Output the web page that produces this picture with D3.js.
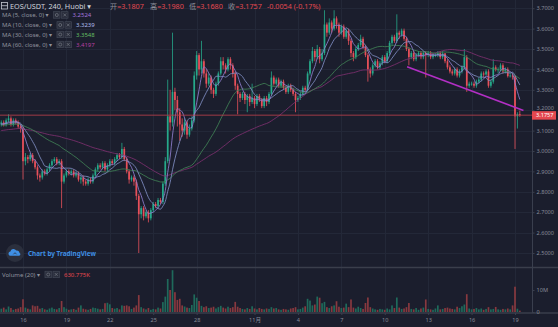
<!DOCTYPE html>
<html>
<head>
<meta charset="utf-8">
<script src="https://cdn.jsdelivr.net/npm/d3@7"></script>
<style>
  html, body { margin: 0; padding: 0; background: #1b1e2d; }
  svg { display: block; }
  text { font-family: "Noto Sans", "Noto Sans CJK SC", "DejaVu Sans", sans-serif; }
</style>
</head>
<body>
<svg id="chart" width="558" height="327"></svg>
<script>
// ---------------- data: EOS/USDT, 4h candles, Huobi ----------------
const symbolTitle = "EOS/USDT, 240, Huobi";
const firstCandleTime = "2019-10-14T12:00";
const candleHours = 4;

// closes of the 59 candles before the first visible one (feed the moving averages)
const earlierCloses = [
  3.05,3.04,3.06,3.08,3.07,3.05,3.06,3.09,3.08,3.10,
  3.07,3.06,3.08,3.09,3.07,3.05,3.06,3.08,3.10,3.09,
  3.07,3.08,3.06,3.07,3.09,3.10,3.08,3.07,3.09,3.10,
  3.11,3.12,3.10,3.13,3.12,3.11,3.13,3.14,3.12,3.11,
  3.13,3.12,3.14,3.13,3.11,3.12,3.13,3.12,3.14,3.13,
  3.12,3.14,3.13,3.12,3.15,3.13,3.12,3.14,3.13
];

const opens = [
  3.13,3.14,3.13,3.15,3.16,3.13,3.15,3.14,3.12,3.11,
  2.95,2.97,2.96,2.98,2.95,2.92,2.88,2.87,2.90,2.89,
  2.91,2.93,2.95,2.96,2.94,2.95,2.85,2.88,2.90,2.89,
  2.90,2.88,2.89,2.86,2.87,2.85,2.84,2.86,2.85,2.88,
  2.91,2.93,2.92,2.94,2.91,2.93,2.95,2.94,2.96,2.98,
  2.97,3.01,2.96,2.90,2.86,2.87,2.85,2.78,2.69,2.72,
  2.68,2.70,2.67,2.71,2.74,2.73,2.76,2.75,2.84,2.95,
  3.17,3.14,3.29,3.25,3.19,3.13,3.10,3.14,3.08,3.11,
  3.15,3.37,3.47,3.40,3.44,3.38,3.33,3.36,3.30,3.28,
  3.33,3.38,3.44,3.42,3.40,3.45,3.42,3.38,3.32,3.28,
  3.26,3.28,3.25,3.27,3.24,3.26,3.23,3.27,3.25,3.22,
  3.26,3.24,3.28,3.36,3.33,3.35,3.32,3.34,3.31,3.29,
  3.32,3.30,3.28,3.25,3.26,3.28,3.31,3.30,3.38,3.44,
  3.49,3.46,3.50,3.45,3.48,3.62,3.58,3.63,3.60,3.65,
  3.62,3.58,3.61,3.56,3.59,3.54,3.48,3.46,3.50,3.52,
  3.55,3.51,3.47,3.40,3.38,3.42,3.44,3.41,3.43,3.46,
  3.44,3.48,3.53,3.56,3.54,3.58,3.57,3.59,3.55,3.50,
  3.46,3.48,3.45,3.47,3.48,3.46,3.48,3.47,3.48,3.46,
  3.47,3.47,3.48,3.46,3.478,3.44,3.41,3.39,3.38,3.40,
  3.37,3.39,3.41,3.46,3.32,3.33,3.33,3.32,3.34,3.35,
  3.38,3.375,3.39,3.32,3.34,3.41,3.40,3.40,3.42,3.39,
  3.40,3.367,3.37,3.365,3.17,3.1807
];

const highs = [
  3.15,3.15,3.16,3.18,3.17,3.16,3.16,3.15,3.13,3.12,
  2.99,2.98,2.99,2.99,2.96,2.93,2.89,2.91,2.91,2.92,
  2.94,2.96,2.97,2.97,2.96,2.96,2.89,2.91,2.91,2.91,
  2.91,2.90,2.90,2.88,2.88,2.86,2.87,2.87,2.89,2.92,
  2.94,2.94,2.95,2.95,2.94,2.96,2.96,2.97,2.99,2.99,
  3.04,3.02,2.97,2.91,2.88,2.88,2.86,2.79,2.73,2.73,
  2.71,2.71,2.72,2.75,2.75,2.77,2.77,2.85,2.97,3.35,
  3.30,3.58,3.31,3.27,3.21,3.16,3.16,3.15,3.13,3.17,
  3.39,3.49,3.48,3.54,3.45,3.40,3.38,3.37,3.31,3.34,
  3.39,3.46,3.46,3.43,3.46,3.46,3.43,3.39,3.33,3.29,
  3.29,3.29,3.28,3.28,3.33,3.27,3.28,3.28,3.26,3.27,
  3.27,3.29,3.39,3.37,3.36,3.36,3.35,3.35,3.32,3.33,
  3.33,3.31,3.29,3.27,3.29,3.32,3.32,3.39,3.45,3.51,
  3.50,3.52,3.51,3.50,3.69,3.63,3.65,3.64,3.69,3.66,
  3.63,3.62,3.62,3.60,3.60,3.55,3.49,3.51,3.53,3.57,
  3.56,3.52,3.48,3.41,3.43,3.45,3.45,3.44,3.47,3.47,
  3.49,3.54,3.57,3.57,3.67,3.59,3.60,3.60,3.56,3.51,
  3.49,3.49,3.48,3.49,3.49,3.49,3.49,3.49,3.49,3.48,
  3.48,3.49,3.49,3.49,3.48,3.45,3.42,3.40,3.41,3.41,
  3.40,3.42,3.50,3.47,3.34,3.34,3.34,3.35,3.36,3.39,
  3.39,3.40,3.40,3.35,3.45,3.42,3.41,3.43,3.43,3.41,
  3.41,3.38,3.38,3.37,3.19,3.198
];

const lows = [
  3.12,3.12,3.12,3.14,3.12,3.12,3.13,3.11,3.09,2.86,
  2.93,2.94,2.95,2.94,2.91,2.86,2.85,2.86,2.88,2.88,
  2.90,2.92,2.94,2.93,2.93,2.72,2.84,2.87,2.88,2.88,
  2.87,2.87,2.85,2.84,2.83,2.83,2.83,2.84,2.84,2.87,
  2.90,2.91,2.91,2.90,2.90,2.92,2.93,2.93,2.95,2.96,
  2.96,2.95,2.89,2.84,2.85,2.83,2.76,2.50,2.67,2.66,
  2.67,2.65,2.66,2.70,2.72,2.72,2.74,2.74,2.83,2.94,
  3.10,3.12,3.20,3.12,3.05,3.07,3.08,3.06,3.07,3.10,
  3.14,3.35,3.37,3.38,3.36,3.31,3.32,3.28,3.26,3.27,
  3.32,3.37,3.40,3.38,3.39,3.40,3.36,3.30,3.18,3.24,
  3.25,3.23,3.19,3.22,3.23,3.21,3.22,3.24,3.21,3.21,
  3.22,3.23,3.27,3.32,3.32,3.31,3.31,3.30,3.28,3.28,
  3.29,3.27,3.19,3.24,3.25,3.27,3.29,3.29,3.37,3.43,
  3.44,3.45,3.43,3.44,3.47,3.56,3.57,3.58,3.59,3.60,
  3.56,3.57,3.55,3.55,3.52,3.46,3.44,3.45,3.49,3.51,
  3.50,3.46,3.34,3.36,3.37,3.41,3.40,3.40,3.42,3.43,
  3.43,3.47,3.52,3.53,3.53,3.55,3.56,3.54,3.49,3.42,
  3.45,3.44,3.44,3.46,3.45,3.45,3.36,3.46,3.45,3.45,
  3.46,3.46,3.45,3.45,3.43,3.40,3.38,3.37,3.37,3.36,
  3.36,3.38,3.40,3.29,3.31,3.32,3.31,3.31,3.33,3.34,
  3.36,3.37,3.31,3.31,3.33,3.39,3.38,3.39,3.38,3.38,
  3.36,3.36,3.35,3.01,3.11,3.168
];

const closes = [
  3.14,3.13,3.15,3.16,3.13,3.15,3.14,3.12,3.11,2.95,
  2.97,2.96,2.98,2.95,2.92,2.88,2.87,2.90,2.89,2.91,
  2.93,2.95,2.96,2.94,2.95,2.85,2.88,2.90,2.89,2.90,
  2.88,2.89,2.86,2.87,2.85,2.84,2.86,2.85,2.88,2.91,
  2.93,2.92,2.94,2.91,2.93,2.95,2.94,2.96,2.98,2.97,
  3.01,2.96,2.90,2.86,2.87,2.85,2.78,2.69,2.72,2.68,
  2.70,2.67,2.71,2.74,2.73,2.76,2.75,2.84,2.95,3.17,
  3.14,3.29,3.25,3.19,3.13,3.10,3.14,3.08,3.11,3.15,
  3.37,3.47,3.40,3.44,3.38,3.33,3.36,3.30,3.28,3.33,
  3.38,3.44,3.42,3.40,3.45,3.42,3.38,3.32,3.28,3.26,
  3.28,3.25,3.27,3.24,3.26,3.23,3.27,3.25,3.22,3.26,
  3.24,3.28,3.36,3.33,3.35,3.32,3.34,3.31,3.29,3.32,
  3.30,3.28,3.25,3.26,3.28,3.31,3.30,3.38,3.44,3.49,
  3.46,3.50,3.45,3.48,3.62,3.58,3.63,3.60,3.65,3.62,
  3.58,3.61,3.56,3.59,3.54,3.48,3.46,3.50,3.52,3.55,
  3.51,3.47,3.40,3.38,3.42,3.44,3.41,3.43,3.46,3.44,
  3.48,3.53,3.56,3.54,3.58,3.57,3.59,3.55,3.50,3.46,
  3.48,3.45,3.47,3.48,3.46,3.48,3.47,3.48,3.46,3.47,
  3.47,3.48,3.46,3.478,3.44,3.41,3.39,3.38,3.40,3.37,
  3.39,3.41,3.46,3.32,3.33,3.33,3.32,3.34,3.35,3.38,
  3.375,3.39,3.32,3.34,3.41,3.40,3.40,3.42,3.39,3.40,
  3.367,3.37,3.365,3.17,3.1811,3.1757
];

// volume per candle, millions of EOS
const volumes = [
  1.5,2.0,1.2,2.5,1.8,1.0,1.4,1.6,2.2,5.8,
  2.0,1.5,1.2,3.0,2.6,2.8,1.5,1.8,1.2,1.0,
  1.6,2.0,1.4,1.2,1.8,5.0,2.2,1.5,1.0,1.2,
  1.4,1.0,2.0,3.0,1.5,1.2,1.0,1.4,2.0,1.8,
  1.5,1.2,1.4,4.0,4.2,3.5,1.8,1.5,1.8,1.2,
  3.0,2.8,3.0,2.6,1.4,2.0,3.0,7.7,2.2,1.6,
  1.2,1.8,1.0,1.4,1.2,2.0,1.6,4.5,7.0,15.0,
  10.0,19.0,9.0,5.5,6.0,3.0,2.5,2.0,1.8,3.2,
  8.0,6.5,5.0,2.8,2.2,2.6,1.8,2.0,2.4,1.6,
  2.2,2.8,2.0,1.6,2.4,1.8,2.2,4.6,2.4,1.8,
  1.4,1.2,1.8,1.4,2.6,1.6,1.2,1.8,1.4,1.2,
  1.6,1.4,2.2,1.6,1.8,1.2,1.0,1.4,1.2,1.0,
  1.6,1.8,2.2,1.2,1.4,2.0,2.6,6.0,5.2,3.0,
  3.4,7.0,6.5,4.0,4.6,2.2,1.8,2.6,3.0,4.9,
  2.4,1.8,2.0,3.8,2.2,5.7,2.0,1.6,2.4,1.8,
  1.4,4.1,6.6,2.2,1.6,1.2,1.0,1.4,1.2,1.0,
  1.6,1.2,3.0,1.8,6.6,2.0,1.4,1.6,2.2,4.1,
  1.4,1.2,1.8,1.0,1.6,2.0,5.7,1.4,1.2,1.0,
  1.6,3.0,1.2,1.4,1.8,2.0,1.6,1.4,1.2,2.4,
  1.8,2.6,3.4,8.1,1.6,1.2,1.4,1.8,1.2,1.6,
  1.0,1.4,2.2,1.2,1.4,2.3,1.2,1.0,1.4,1.2,
  1.6,1.2,3.0,11.5,1.5,0.630775
];

const maPeriods = [5, 10, 30, 60];
const volumePeriod = 20;

const priceTicks = [2.5, 2.6, 2.7, 2.8, 2.9, 3.0, 3.1, 3.2, 3.3, 3.4, 3.5, 3.6, 3.7];
const volumeTicks = [0, 10];
const timeTickDays = ["2019-10-16","2019-10-19","2019-10-22","2019-10-25","2019-10-28","2019-11-01",
                      "2019-11-04","2019-11-07","2019-11-10","2019-11-13","2019-11-16","2019-11-19"];
const timeTickLabels = ["16","19","22","25","28","11月","4","7","10","13","16","19"];

// descending trend line drawn across the November highs
const trendTimes = ["2019-11-11T13:00", "2019-11-19T14:00"];
const trendPrices = [3.413, 3.199];

// ---------------- layout & style ----------------
const W = 558, H = 327;
const paneRight = 532, mainTop = 0, mainBottom = 267, volTop = 268, volBottom = 312;
const bg = "#1b1e2d", gridColor = "#232838", axisColor = "#3a3f4e", axisText = "#878b98";
const upColor = "#26a98a", downColor = "#e8505a";
const volUp = "#1f6a5b", volDown = "#88393f";
const maLegendColors = ["#a274dc", "#aebbec", "#63bd63", "#b63ea2"];
const maLineColors = ["#8f7fcf", "#7f8dc2", "#3f8055", "#7c2f6e"];

const svg = d3.select("#chart");
svg.append("rect").attr("width", W).attr("height", H).attr("fill", bg);

const parseDay = d3.timeParse("%Y-%m-%d");
const parseTime = d3.timeParse("%Y-%m-%dT%H:%M");
const t0 = parseTime(firstCandleTime);
const times = closes.map((_, i) => new Date(+t0 + i * candleHours * 3600e3));
const tickDates = timeTickDays.map(parseDay);

const x = d3.scaleTime().domain([parseDay("2019-10-16"), parseDay("2019-11-19")]).range([23, 515]);
const y = d3.scaleLinear().domain([2.5, 3.7]).range([253, 8.2]);
const yVol = d3.scaleLinear().domain([0, 10]).range([volBottom, 290]);

const step = x(times[1]) - x(times[0]);
const bodyW = step * 0.7;

// clip regions
const defs = svg.append("defs");
defs.append("clipPath").attr("id", "clipMain").append("rect")
  .attr("x", 0).attr("y", mainTop).attr("width", paneRight).attr("height", mainBottom - mainTop);
defs.append("clipPath").attr("id", "clipVol").append("rect")
  .attr("x", 0).attr("y", volTop).attr("width", paneRight).attr("height", volBottom - volTop + 0.5);

// grid
const grid = svg.append("g").attr("stroke", gridColor).attr("stroke-width", 1);
priceTicks.forEach(p => grid.append("line")
  .attr("x1", 0).attr("x2", paneRight).attr("y1", Math.round(y(p)) + 0.5).attr("y2", Math.round(y(p)) + 0.5));
tickDates.forEach(d => {
  const xx = Math.round(x(d)) + 0.5;
  grid.append("line").attr("x1", xx).attr("x2", xx).attr("y1", mainTop).attr("y2", mainBottom);
  grid.append("line").attr("x1", xx).attr("x2", xx).attr("y1", volTop).attr("y2", volBottom);
});

// ---------------- candles ----------------
const candles = closes.map((c, i) => ({ t: times[i], o: opens[i], h: highs[i], l: lows[i], c: c, v: volumes[i] }));

const main = svg.append("g").attr("clip-path", "url(#clipMain)");
const cg = main.append("g");
cg.selectAll("line.wick").data(candles).join("line")
  .attr("class", "wick")
  .attr("x1", d => x(d.t)).attr("x2", d => x(d.t))
  .attr("y1", d => y(d.h)).attr("y2", d => y(d.l))
  .attr("stroke", d => d.c >= d.o ? upColor : downColor)
  .attr("stroke-width", 0.8);
cg.selectAll("rect.body").data(candles).join("rect")
  .attr("class", "body")
  .attr("x", d => x(d.t) - bodyW / 2)
  .attr("width", bodyW)
  .attr("y", d => y(Math.max(d.o, d.c)))
  .attr("height", d => Math.max(0.8, Math.abs(y(d.o) - y(d.c))))
  .attr("fill", d => d.c >= d.o ? upColor : downColor);

// ---------------- moving averages ----------------
const allCloses = earlierCloses.concat(closes);
const offset = earlierCloses.length;
function movingAverage(n) {
  return closes.map((_, i) => {
    const j = i + offset;
    if (j - n + 1 < 0) return null;
    return d3.mean(allCloses.slice(j - n + 1, j + 1));
  });
}
const maSeries = maPeriods.map(movingAverage);
const maLine = d3.line()
  .defined(d => d.v != null)
  .x(d => x(d.t)).y(d => y(d.v))
  .curve(d3.curveMonotoneX);
[3, 2, 1, 0].forEach(k => {
  main.append("path")
    .datum(maSeries[k].map((v, i) => ({ t: times[i], v })))
    .attr("d", maLine)
    .attr("fill", "none")
    .attr("stroke", maLineColors[k])
    .attr("stroke-width", 1)
    .attr("stroke-opacity", 0.85);
});

// trend line
main.append("line")
  .attr("x1", x(parseTime(trendTimes[0]))).attr("y1", y(trendPrices[0]))
  .attr("x2", x(parseTime(trendTimes[1]))).attr("y2", y(trendPrices[1]))
  .attr("stroke", "#b22fc4").attr("stroke-width", 1.6);

// last price line
const last = candles[candles.length - 1];
const prev = candles[candles.length - 2];
svg.append("line")
  .attr("x1", 0).attr("x2", paneRight)
  .attr("y1", y(last.c)).attr("y2", y(last.c))
  .attr("stroke", "#b8404b").attr("stroke-width", 1).attr("stroke-opacity", 0.85);

// ---------------- volume pane ----------------
const vg = svg.append("g").attr("clip-path", "url(#clipVol)");
vg.selectAll("rect").data(candles).join("rect")
  .attr("x", d => x(d.t) - bodyW / 2)
  .attr("width", bodyW)
  .attr("y", d => yVol(d.v))
  .attr("height", d => volBottom - yVol(d.v))
  .attr("fill", d => d.c >= d.o ? volUp : volDown);

// pane separators / borders
svg.append("line").attr("x1", 0).attr("x2", W).attr("y1", 267.5).attr("y2", 267.5)
  .attr("stroke", "#3a3e4b").attr("stroke-width", 1.5);
svg.append("line").attr("x1", 0).attr("x2", W).attr("y1", volBottom + 1).attr("y2", volBottom + 1)
  .attr("stroke", "#3a3e4b").attr("stroke-width", 1.5);

// ---------------- axes ----------------
function styleAxis(g) {
  g.select(".domain").attr("stroke", axisColor);
  g.selectAll(".tick line").attr("stroke", axisColor);
  g.selectAll(".tick text").attr("fill", axisText).attr("font-size", 5.6)
    .attr("font-family", '"Noto Sans", "Noto Sans CJK SC", sans-serif');
}
const fmt4 = d3.format(".4f");
const last_y = y(last.c);
const priceAxis = svg.append("g").attr("transform", `translate(${paneRight},0)`)
  .call(d3.axisRight(y).tickValues(priceTicks).tickFormat(fmt4).tickSize(2.5).tickPadding(2))
  .call(styleAxis);
priceAxis.select(".domain").remove();
// the tick label sitting under the last-price tag only peeks out above it
priceAxis.selectAll(".tick").filter(d => Math.abs(y(d) - last_y) < 8)
  .select("text").attr("dy", "-0.2em");
const volAxis = svg.append("g").attr("transform", `translate(${paneRight},0)`)
  .call(d3.axisRight(yVol).tickValues(volumeTicks).tickFormat(d => d === 0 ? "0" : d + "M").tickSize(2.5).tickPadding(2))
  .call(styleAxis);
volAxis.select(".domain").remove();
svg.append("line").attr("x1", paneRight + 0.5).attr("x2", paneRight + 0.5).attr("y1", 0).attr("y2", volBottom + 1)
  .attr("stroke", axisColor).attr("stroke-width", 1);

const timeAxis = svg.append("g").attr("transform", `translate(0,${volBottom + 1})`)
  .call(d3.axisBottom(x).tickValues(tickDates).tickFormat((d, i) => timeTickLabels[i]).tickSize(2).tickPadding(3))
  .call(styleAxis);
timeAxis.select(".domain").remove();

// last price tag
svg.append("rect").attr("x", paneRight).attr("y", last_y - 4).attr("width", 24).attr("height", 8.5)
  .attr("fill", "#e5484f");
svg.append("text").attr("x", paneRight + 4).attr("y", last_y + 0.3).attr("dy", "0.34em")
  .attr("fill", "#ffffff").attr("font-size", 5.6).text(fmt4(last.c));

// ---------------- header & legends ----------------
const hdr = svg.append("g");
hdr.append("rect").attr("x", 1.5).attr("y", 2.5).attr("width", 6).attr("height", 6.5)
  .attr("fill", "none").attr("stroke", "#c4c8d2").attr("stroke-width", 0.8);
hdr.append("line").attr("x1", 1.5).attr("x2", 7.5).attr("y1", 5.7).attr("y2", 5.7)
  .attr("stroke", "#c4c8d2").attr("stroke-width", 0.8);
hdr.append("text").attr("x", 10).attr("y", 8.6).attr("font-size", 7.3).attr("fill", "#cfd2da")
  .text(symbolTitle + " ▾");

const change = last.c - prev.c;
const ohlc = [
  { label: "开", value: last.o, x: 110 },
  { label: "高", value: last.h, x: 150 },
  { label: "低", value: last.l, x: 189 },
  { label: "收", value: last.c, x: 228 }
];
ohlc.forEach(item => {
  const t = hdr.append("text").attr("x", item.x).attr("y", 8.6).attr("font-size", 7.2);
  t.append("tspan").attr("fill", "#8e919c").text(item.label);
  t.append("tspan").attr("fill", "#e5484f").text("=" + fmt4(item.value));
});
hdr.append("text").attr("x", 267).attr("y", 8.6).attr("font-size", 7.2).attr("fill", "#e5484f")
  .text(`${fmt4(change)} (${d3.format(".2f")(change / prev.c * 100)}%)`.replace(/−/g, "-"));

function legendButtons(g, xStart, yMid) {
  [0, 1].forEach(k => {
    const bx = xStart + k * 8;
    g.append("rect").attr("x", bx).attr("y", yMid - 3.3).attr("width", 6.5).attr("height", 6.5)
      .attr("fill", "#2a2e3c").attr("stroke", "#474c5a").attr("stroke-width", 0.6);
    if (k === 1) {
      g.append("path").attr("d", `M${bx + 1.8},${yMid - 1.5}L${bx + 4.7},${yMid + 1.4}M${bx + 4.7},${yMid - 1.5}L${bx + 1.8},${yMid + 1.4}`)
        .attr("stroke", "#80848f").attr("stroke-width", 0.6);
    } else {
      g.append("circle").attr("cx", bx + 3.25).attr("cy", yMid).attr("r", 1.5)
        .attr("fill", "none").attr("stroke", "#80848f").attr("stroke-width", 0.6);
    }
  });
}

const legendRowsY = [15, 25, 34.5, 44.5];
maPeriods.forEach((p, k) => {
  const g = svg.append("g");
  const yy = legendRowsY[k];
  const lab = g.append("text").attr("x", 2).attr("y", yy).attr("dy", "0.35em")
    .attr("font-size", 6).attr("fill", "#8f939e").text(`MA (${p}, close, 0) ▾`);
  const endX = 2 + lab.node().getComputedTextLength();
  legendButtons(g, endX + 5, yy);
  g.append("text").attr("x", endX + 24).attr("y", yy).attr("dy", "0.35em")
    .attr("font-size", 6).attr("fill", maLegendColors[k]).text(fmt4(maSeries[k][maSeries[k].length - 1]));
});

// volume legend
{
  const g = svg.append("g");
  const yy = 274.5;
  const lab = g.append("text").attr("x", 2).attr("y", yy).attr("dy", "0.35em")
    .attr("font-size", 6).attr("fill", "#8f939e").text(`Volume (${volumePeriod}) ▾`);
  const endX = 2 + lab.node().getComputedTextLength();
  legendButtons(g, endX + 5, yy);
  g.append("text").attr("x", endX + 24).attr("y", yy).attr("dy", "0.35em")
    .attr("font-size", 6).attr("fill", "#e5484f")
    .text(d3.format(".3f")(last.v * 1000) + "K");
}

// "Chart by TradingView" badge
{
  const g = svg.append("g");
  g.append("circle").attr("cx", 15).attr("cy", 253).attr("r", 9).attr("fill", "#2b2f3d");
  g.append("path")
    .attr("transform", "translate(15,253.5)")
    .attr("d", "M-5.2,2.2 a2.2,2.2 0 0 1 0.6,-4.2 a3.1,3.1 0 0 1 5.8,-0.9 a2.5,2.5 0 0 1 3.3,2.4 a1.4,1.4 0 0 1 -0.4,2.7 z")
    .attr("fill", "#3f8fe4");
  g.append("path")
    .attr("transform", "translate(15,253.5)")
    .attr("d", "M-1.6,0.8 L0,-0.8 L1.6,0.8")
    .attr("fill", "none").attr("stroke", "#2b2f3d").attr("stroke-width", 0.8);
  g.append("text").attr("x", 28).attr("y", 255.6).attr("font-size", 6.4).attr("font-weight", 700)
    .attr("fill", "#3f8fe4").text("Chart by TradingView");
}
</script>
</body>
</html>
